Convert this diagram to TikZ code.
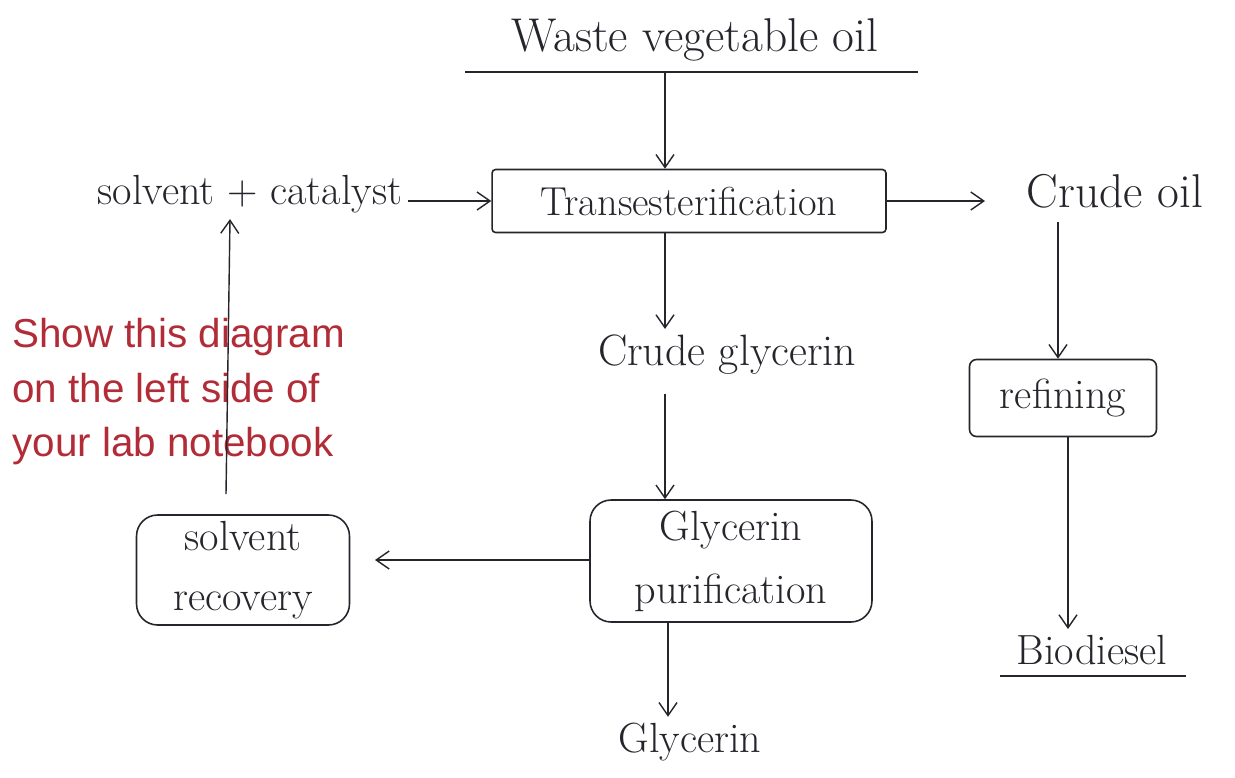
\documentclass[tikz,border=0pt]{standalone}
\usepackage{fontspec}
\usepackage{tikz}
\usetikzlibrary{arrows.meta}
\newfontfamily\notefont{Liberation Sans}
\definecolor{notered}{RGB}{178,44,56}
\definecolor{ink}{RGB}{40,36,44}

\begin{document}
\begin{tikzpicture}[x=0.02cm,y=-0.02cm,
  every node/.style={text=ink,font=\fontsize{24}{28}\selectfont},
  box/.style={draw=ink,line width=0.9pt,align=center,inner sep=0pt},
  flow/.style={draw=ink,line width=0.8pt,-{Straight Barb[length=2.6mm,width=3.6mm]}}]
  \useasboundingbox[fill=white] (0,0) rectangle (1235,778);
  \node [font=\fontsize{27}{31}\selectfont](oil) at (695,40) {Waste vegetable oil};
  \node (solv) at (250,194) {solvent + catalyst};
  \node [box,rounded corners=2pt,minimum width=7.88cm,minimum height=1.26cm,
    font=\fontsize{23}{27}\selectfont](trans) at (689,201) {Transesterification};
  \node [font=\fontsize{27}{31}\selectfont](coil) at (1115,191) {Crude oil};
  \node [box,rounded corners=4pt,minimum width=3.74cm,minimum height=1.54cm](refine) at (1063,398) {refining};
  \node (bio) at (1092,650) {Biodiesel};
  \node [font=\fontsize{25}{29}\selectfont](cgly) at (727,355) {Crude glycerin};
  \node [box,rounded corners=12pt,minimum width=5.64cm,minimum height=2.44cm,
    font=\fontsize{24}{36}\selectfont](purif) at (731,561) {Glycerin\\purification};
  \node [box,rounded corners=12pt,minimum width=4.26cm,minimum height=2.2cm,
    font=\fontsize{24}{34}\selectfont](recov) at (243,570) {solvent\\recovery};
  \node (gly) at (690,742) {Glycerin};
  \node [anchor=north west,align=left,text=notered,inner sep=0pt,
    font=\notefont\fontsize{23}{31}\selectfont](note) at (12,318)
    {Show this diagram\\on the left side of\\your lab notebook};
  \coordinate (ulA) at (465,72);
  \coordinate (ulB) at (918,72);
  \coordinate (blA) at (1000,676);
  \coordinate (blB) at (1186,676);
  \coordinate (oilend) at (985,197);
  \coordinate (recend) at (375,560);
  \draw [ink,line width=0.9pt] (ulA)--(ulB);
  \draw [ink,line width=0.9pt] (blA)--(blB);
  \draw [flow] (ulA -| 665,0)--(trans.north -| 665,0);
  \draw [flow] (trans.west -| solv.east)--(trans.west);
  \draw [flow] (trans.east)--(trans.east -| oilend);
  \draw [flow] (1058,222)--(refine.north -| 1058,0);
  \draw [flow] (refine.south -| 1068,0)--(bio.north -| 1068,0);
  \draw [flow] (trans.south -| 665,0)--(cgly.north -| 665,0);
  \draw [flow] ([yshift=-0.25cm]cgly.south -| 665,0)--(purif.north -| 665,0);
  \draw [flow] (purif.west |- recend)--(recend);
  \draw [flow] ([yshift=0.4cm]recov.north -| 226,0)--(solv.south -| 230,0);
  \draw [flow] (purif.south -| 668,0)--(gly.north -| 668,0);
\end{tikzpicture}
\end{document}
